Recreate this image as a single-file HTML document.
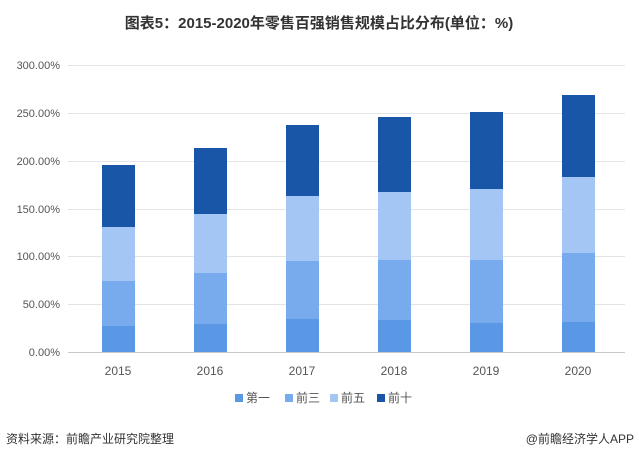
<!DOCTYPE html>
<html><head><meta charset="utf-8"><style>
body{margin:0;background:#fff;}
svg text{font-family:"Liberation Sans","Noto Sans CJK SC",sans-serif;}
</style></head><body>
<svg width="639" height="460" xmlns="http://www.w3.org/2000/svg">
<rect width="639" height="460" fill="#fff"/>
<text x="319" y="28" text-anchor="middle" font-size="15" font-weight="bold" fill="#333">图表5：2015-2020年零售百强销售规模占比分布(单位：%)</text>
<g stroke="#e4e4e4" stroke-width="1">
<line x1="68" x2="625" y1="65.5" y2="65.5"/><line x1="68" x2="625" y1="113.5" y2="113.5"/>
<line x1="68" x2="625" y1="161.5" y2="161.5"/><line x1="68" x2="625" y1="209.5" y2="209.5"/>
<line x1="68" x2="625" y1="256.5" y2="256.5"/><line x1="68" x2="625" y1="304.5" y2="304.5"/>
</g>
<line x1="68" x2="625" y1="352.5" y2="352.5" stroke="#c8c8c8"/>
<g font-size="11" fill="#555" text-anchor="end">
<text x="60" y="69">300.00%</text><text x="60" y="117">250.00%</text><text x="60" y="165">200.00%</text>
<text x="60" y="213">150.00%</text><text x="60" y="260">100.00%</text><text x="60" y="308">50.00%</text><text x="60" y="356">0.00%</text>
</g>
<g id="bars">
<!-- x, first, q3, q5, q10 tops -->
</g>
<g>
<rect x="102" y="165" width="33" height="62" fill="#1a56a8"/><rect x="102" y="227" width="33" height="54" fill="#a4c6f4"/><rect x="102" y="281" width="33" height="45" fill="#78aaee"/><rect x="102" y="326" width="33" height="26" fill="#5a98e6"/>
<rect x="194" y="148" width="33" height="66" fill="#1a56a8"/><rect x="194" y="214" width="33" height="59" fill="#a4c6f4"/><rect x="194" y="273" width="33" height="51" fill="#78aaee"/><rect x="194" y="324" width="33" height="28" fill="#5a98e6"/>
<rect x="286" y="125" width="33" height="71" fill="#1a56a8"/><rect x="286" y="196" width="33" height="65" fill="#a4c6f4"/><rect x="286" y="261" width="33" height="58" fill="#78aaee"/><rect x="286" y="319" width="33" height="33" fill="#5a98e6"/>
<rect x="378" y="117" width="33" height="75" fill="#1a56a8"/><rect x="378" y="192" width="33" height="68" fill="#a4c6f4"/><rect x="378" y="260" width="33" height="60" fill="#78aaee"/><rect x="378" y="320" width="33" height="32" fill="#5a98e6"/>
<rect x="470" y="112" width="33" height="77" fill="#1a56a8"/><rect x="470" y="189" width="33" height="71" fill="#a4c6f4"/><rect x="470" y="260" width="33" height="63" fill="#78aaee"/><rect x="470" y="323" width="33" height="29" fill="#5a98e6"/>
<rect x="562" y="95" width="33" height="82" fill="#1a56a8"/><rect x="562" y="177" width="33" height="76" fill="#a4c6f4"/><rect x="562" y="253" width="33" height="69" fill="#78aaee"/><rect x="562" y="322" width="33" height="30" fill="#5a98e6"/>
</g>
<g font-size="12" fill="#555" text-anchor="middle">
<text x="118" y="375">2015</text><text x="210" y="375">2016</text><text x="302" y="375">2017</text>
<text x="394" y="375">2018</text><text x="486" y="375">2019</text><text x="578" y="375">2020</text>
</g>
<g font-size="12" fill="#555">
<rect x="235" y="394" width="8" height="8" fill="#5a98e6"/><text x="246" y="402">第一</text>
<rect x="285" y="394" width="8" height="8" fill="#78aaee"/><text x="296" y="402">前三</text>
<rect x="330" y="394" width="8" height="8" fill="#a4c6f4"/><text x="341" y="402">前五</text>
<rect x="377" y="394" width="8" height="8" fill="#1a56a8"/><text x="388" y="402">前十</text>
</g>
<text x="6" y="443" font-size="12" fill="#333">资料来源：前瞻产业研究院整理</text>
<text x="634" y="443" font-size="12" fill="#333" text-anchor="end">@前瞻经济学人APP</text>
</svg>
</body></html>
